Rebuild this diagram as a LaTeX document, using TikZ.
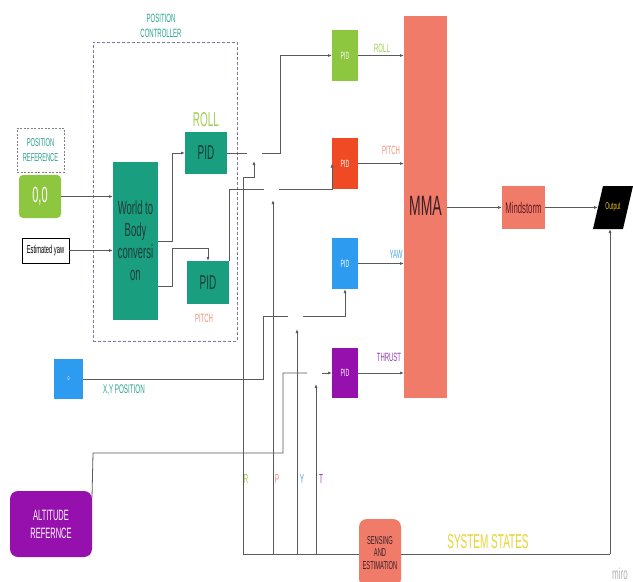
\documentclass[tikz,border=0pt]{standalone}
\usepackage{fontspec}
\setmainfont[FakeStretch=0.5]{Liberation Sans}
\usetikzlibrary{arrows.meta}
\definecolor{tealbox}{HTML}{1A9E80}
\definecolor{greenbox}{HTML}{8DC63F}
\definecolor{redbox}{HTML}{F04A25}
\definecolor{bluebox}{HTML}{2D9BF0}
\definecolor{purplebox}{HTML}{9510AC}
\definecolor{salmon}{HTML}{F07B68}
\definecolor{linegray}{HTML}{5A5A5A}
\definecolor{tealtxt}{HTML}{27A58F}
\definecolor{darktxt}{HTML}{1E3B36}
\definecolor{rolltxt}{HTML}{A2CE52}
\definecolor{pitchtxt}{HTML}{E9937A}
\definecolor{yawtxt}{HTML}{4DA6E8}
\definecolor{thrusttxt}{HTML}{9C3BB3}
\definecolor{sstxt}{HTML}{E8D436}
\definecolor{pcdash}{HTML}{7A7AAA}
\definecolor{outtxt}{HTML}{E8C020}
\definecolor{mmatxt}{HTML}{3A1F2A}
\newcommand{\fsz}[2]{\fontsize{#1}{#2}\selectfont}
\begin{document}
\begin{tikzpicture}[x=1pt,y=-1pt,
  conn/.style={draw=linegray, line width=0.8pt},
  arr/.style={conn, -{Latex[length=4pt,width=3pt]}},
  blk/.style={inner sep=0pt, outer sep=0pt, align=center},
  lbl/.style={inner sep=0pt, align=center},
  smallpid/.style={blk, minimum width=26, minimum height=51, text=white, font=\fsz{10.5}{12}},
]
\clip (0,0) rectangle (633,582);
\fill[white] (0,0) rectangle (633,582);

% position controller
\node[blk, draw=pcdash, dash pattern=on 3pt off 2pt, line width=0.9pt, minimum width=144, minimum height=299] (pc) at (165,191.5) {};
\node[lbl, text=tealtxt, font=\fsz{12}{14.5}] (pclbl) at (161,26) {POSITION\\CONTROLLER};

\node[blk, draw=gray, dash pattern=on 2pt off 1.5pt, line width=0.6pt, minimum width=47, minimum height=44, text=tealtxt, font=\fsz{11.5}{15}] (posref) at (40.5,150) {POSITION\\REFERENCE};
\node[blk, fill=greenbox, rounded corners=4pt, minimum width=42, minimum height=43, text=white, font=\fsz{22}{22}] (zero) at (40,196.5) {0,0};
\node[blk, draw=black, line width=0.6pt, fill=white, minimum width=47, minimum height=25, font=\fsz{11.5}{12}] (yaw) at (45.5,250.5) {Estimated yaw};

\node[blk, fill=tealbox, minimum width=45, minimum height=158, text=darktxt, font=\fsz{19}{22}] (world) at (135.5,241) {World to\\Body\\conversi\\on};
\node[blk, fill=tealbox, minimum width=42, minimum height=42, text=darktxt, font=\fsz{20}{20}] (rollpid) at (206,153) {PID};
\node[lbl, text=rolltxt, font=\fsz{20}{20}] (rolllbl) at (206,120) {ROLL};
\node[blk, fill=tealbox, minimum width=42, minimum height=43, text=darktxt, font=\fsz{20}{20}] (pitchpid) at (208,282.5) {PID};
\node[lbl, text=pitchtxt, font=\fsz{12}{12}] (pitchlbl) at (204,318) {PITCH};

% small PIDs
\node[smallpid, fill=greenbox] (greenpid) at (345,55.5) {PID};
\node[smallpid, fill=redbox] (redpid) at (345,163.5) {PID};
\node[smallpid, fill=bluebox] (bluepid) at (345,263.5) {PID};
\node[smallpid, fill=purplebox, minimum height=50] (purplepid) at (345,373) {PID};

\node[lbl, text=rolltxt, font=\fsz{12}{12}] (l1) at (382,48) {ROLL};
\node[lbl, text=pitchtxt, font=\fsz{12}{12}] (l2) at (391,150) {PITCH};
\node[lbl, text=yawtxt, font=\fsz{12}{12}] (l3) at (396,254) {YAW};
\node[lbl, text=thrusttxt, font=\fsz{12}{12}] (l4) at (389,357) {THRUST};

\node[blk, fill=salmon, minimum width=43, minimum height=382] (mma) at (425.5,207) {};
\node[lbl, text=mmatxt, font=\fsz{28}{28}] (mmalbl) at (425.5,206) {MMA};
\node[blk, fill=salmon, minimum width=43, minimum height=43, text=mmatxt!80!red, font=\fsz{15.5}{16}] (mind) at (523.5,207.5) {Mindstorm};
\fill[black] (593,229) -- (603,186) -- (633,186) -- (623,229) -- cycle;
\node[blk, minimum width=30, minimum height=43, text=outtxt, font=\fsz{10}{10}] (out) at (613,207.5) {Output};

\node[blk, fill=bluebox, minimum width=29, minimum height=40, text=white, font=\fsz{7}{7}] (bluesq) at (68.5,379) {o};
\node[lbl, text=tealtxt, font=\fsz{12.5}{13}] (xylbl) at (124,390) {X,Y POSITION};
\node[blk, fill=purplebox, rounded corners=8pt, minimum width=82, minimum height=66, text=white, font=\fsz{15}{18}] (alt) at (51,524) {ALTITUDE\\REFERNCE};

\node[lbl, text=rolltxt, font=\fsz{13}{13}] (rl) at (246,479) {R};
\node[lbl, text=pitchtxt, font=\fsz{13}{13}] (pl) at (277,479) {P};
\node[lbl, text=yawtxt, font=\fsz{13}{13}] (yl) at (302,479) {Y};
\node[lbl, text=thrusttxt, font=\fsz{13}{13}] (tl) at (321,479) {T};
\node[lbl, text=sstxt, font=\fsz{20}{20}] (ss) at (488,542) {SYSTEM STATES};
\node[lbl, text=gray!60, font=\fsz{16}{16}] (miro) at (620,574) {miro};

% coordinates
\coordinate (w1) at (158,286);
\coordinate (rb) at (243,554);
\coordinate (pb) at (273,554);
\coordinate (yb) at (297,554);
\coordinate (tb) at (316,554);
\coordinate (fb) at (610,554);
\coordinate (altout) at (92,498);

% connectors
\draw[arr] (zero.east) -- (world.west |- zero.east);
\draw[arr] (yaw.east) -- (world.west |- yaw.east);
\draw[arr] (world.east) -- (172,241) |- (rollpid.west);
\draw[arr] (w1) -- (172,286) -- (172,248) -| (pitchpid.north);

\draw[conn] (rollpid.east) -- (247,153);
\draw[arr] (262,153) -- (280,153) |- (greenpid.west);
\draw[conn] (pitchpid.north east) -- (229,189) -- (264,189);
\draw[arr] (279,189) -- (redpid.south west) -- (redpid.west);
\draw[conn] (bluesq.east) -- (263,379) -- (263,316) -- (288,316);
\draw[arr] (303,316) -| (bluepid.south);
\draw[conn] (altout) -- (93,453) -- (283,453) -- (283,373) -- (307,373);
\draw[arr] (322,373) -- (purplepid.west);

\draw[arr] (rb) -- (243,177) -- (254,177) -- (254,161);
\draw[arr] (pb) -- (273,200);
\draw[arr] (yb) -- (297,329);
\draw[arr] (tb) -- (316,384);
\draw[conn] (rb) -- (fb);
\draw[arr] (fb) -- (fb |- out.south);

\draw[arr] (greenpid.east) -- (mma.west |- greenpid.east);
\draw[arr] (redpid.east) -- (mma.west |- redpid.east);
\draw[arr] (bluepid.east) -- (mma.west |- bluepid.east);
\draw[arr] (purplepid.east) -- (mma.west |- purplepid.east);
\draw[arr] (mma.east |- mind.west) -- (mind.west);
\draw[arr] (mind.east) -- (out.west);

\node[blk, fill=salmon, rounded corners=8pt, minimum width=42, minimum height=68, text=mmatxt, font=\fsz{11.5}{12.5}] (sense) at (380,553) {SENSING\\AND\\ESTIMATION};
\end{tikzpicture}
\end{document}
